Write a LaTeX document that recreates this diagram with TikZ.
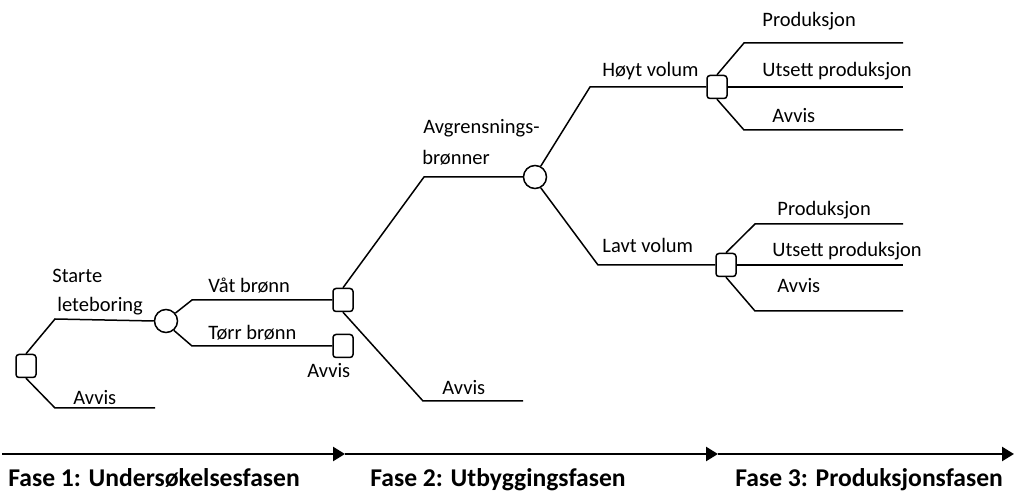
\documentclass[tikz,border=0pt]{standalone}
\usepackage{fontspec}
\setmainfont{Carlito}
\usetikzlibrary{arrows.meta}
\tikzset{
  dec/.style={draw,rectangle,rounded corners=1.5pt,minimum width=10pt,minimum height=11.5pt,inner sep=0pt,line width=0.75pt,fill=white},
  chance/.style={draw,circle,minimum size=11.5pt,inner sep=0pt,line width=0.75pt,fill=white},
  lbl/.style={anchor=base west,inner sep=0pt,font=\fontsize{10.25}{12}\selectfont},
  fase/.style={anchor=base west,inner sep=0pt,font=\fontsize{12.8}{15}\selectfont\bfseries},
  gren/.style={line width=0.75pt},
}
\begin{document}
\begin{tikzpicture}[x=0.5pt,y=-0.5pt,>={Triangle[length=6pt,width=7pt]}]
\useasboundingbox (0,0) rectangle (1014,496);
% beslutnings- og sjansenoder
\node[dec] (s1) at (26,366) {};
\node[chance] (c1) at (166,321) {};
\node[dec] (s2) at (343,300) {};
\node[dec] (s3) at (343,346) {};
\node[chance] (c2) at (535,177) {};
\node[dec] (s4) at (717,87) {};
\node[dec] (s5) at (726,265) {};
% fase 1
\draw[gren] (s1.north)--(55,319)--(c1.west);
\draw[gren] (s1.south)--(55,408)--(155,408);
\draw[gren] (c1.40)--(192,300)--(s2.west);
\draw[gren] (c1.-50)--(192,346)--(s3.west);
% fase 2
\draw[gren] (s2.north)--(424,177)--(c2.west);
\draw[gren] (s2.south)--(423,401)--(523,401);
\draw[gren] (c2.62)--(590,87)--(s4.west);
\draw[gren] (c2.-62)--(598,265)--(s5.west);
% fase 3
\draw[gren] (s4.north)--(744,43)--(903,43);
\draw[gren] (s4.east)--(903,87);
\draw[gren] (s4.south)--(744,130)--(903,130);
\draw[gren] (s5.north)--(755,224)--(903,224);
\draw[gren] (s5.east)--(903,265);
\draw[gren] (s5.south)--(755,311)--(903,311);
% tekster
\node[lbl] (tStart) at (52,283) {Starte};
\node[lbl] (tLete) at (57,312) {leteboring};
\node[lbl] (tAvvis1) at (73,405) {Avvis};
\node[lbl] (tVaat) at (208,293) {Våt brønn};
\node[lbl] (tTorr) at (208,340) {Tørr brønn};
\node[lbl] (tAvvis2) at (307,378) {Avvis};
\node[lbl] (tAvgr) at (423,134) {Avgrensnings-};
\node[lbl] (tBronn) at (422,165) {brønner};
\node[lbl] (tAvvis3) at (442,395) {Avvis};
\node[lbl] (tHoy) at (602,77) {Høyt volum};
\node[lbl] (tLav) at (602,253) {Lavt volum};
\node[lbl] (tProdA) at (762,27) {Produksjon};
\node[lbl] (tUtsA) at (762,77) {Utsett produksjon};
\node[lbl] (tAvvisA) at (772,123) {Avvis};
\node[lbl] (tProdB) at (777,216) {Produksjon};
\node[lbl] (tUtsB) at (772,257) {Utsett produksjon};
\node[lbl] (tAvvisB) at (777,293) {Avvis};
% tidslinje
\coordinate (f0) at (2,454);
\coordinate (f1) at (345,454);
\coordinate (f2) at (718,454);
\coordinate (f3) at (1014,454);
\draw[->,line width=1.2pt] (f0)--(f1);
\draw[->,line width=1.2pt] (f1)--(f2);
\draw[->,line width=1.2pt] (f2)--(f3);
\node[fase] (fase1) at (8,487) {Fase 1: Undersøkelsesfasen};
\node[fase] (fase2) at (370,487) {Fase 2: Utbyggingsfasen};
\node[fase] (fase3) at (735,487) {Fase 3: Produksjonsfasen};
\end{tikzpicture}
\end{document}
